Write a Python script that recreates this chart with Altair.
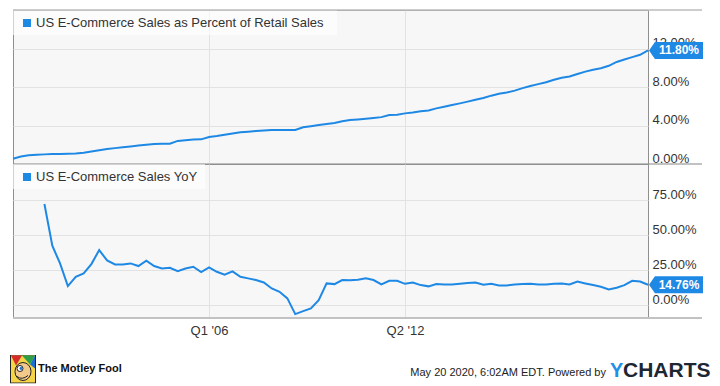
import urllib.parse
import altair as alt
import pandas as pd

# ---------------- data ----------------
quarters = pd.date_range("1999-10-01", periods=82, freq="QS")

pct_retail = [
    0.55, 0.78, 0.90, 0.97, 1.00, 1.04, 1.05, 1.07, 1.08, 1.18,
    1.30, 1.42, 1.55, 1.65, 1.74, 1.83, 1.92, 2.00, 2.07, 2.10,
    2.11, 2.40, 2.48, 2.55, 2.56, 2.80, 2.90, 3.05, 3.18, 3.30,
    3.36, 3.42, 3.48, 3.53, 3.53, 3.53, 3.53, 3.81, 3.93, 4.05,
    4.15, 4.25, 4.45, 4.57, 4.63, 4.70, 4.78, 4.87, 5.09, 5.12,
    5.26, 5.36, 5.48, 5.56, 5.78, 5.95, 6.12, 6.30, 6.48, 6.68,
    6.86, 7.10, 7.30, 7.42, 7.62, 7.88, 8.10, 8.30, 8.50, 8.75,
    8.97, 9.10, 9.35, 9.60, 9.80, 9.95, 10.20, 10.60, 10.85, 11.10,
    11.35, 11.80,
]

yoy_quarters = quarters[4:]
yoy = [
    72.4, 42.6, 30.0, 13.8, 20.4, 22.9, 29.5, 39.5, 32.1, 29.3,
    29.3, 30.0, 28.1, 31.9, 28.1, 26.4, 26.9, 24.5, 26.4, 27.6,
    23.8, 27.1, 24.0, 21.9, 24.3, 20.4, 19.3, 18.1, 16.4, 12.1,
    9.7, 5.0, -6.2, -4.1, -2.1, 3.8, 15.7, 15.2, 18.1, 17.9,
    18.3, 19.3, 18.1, 15.0, 17.6, 17.6, 15.4, 16.4, 14.5, 13.6,
    15.2, 15.0, 15.0, 15.5, 16.0, 16.4, 14.7, 15.5, 14.3, 14.3,
    15.0, 15.2, 15.5, 15.0, 15.0, 15.5, 15.7, 15.0, 17.0, 15.7,
    14.5, 13.3, 11.4, 12.6, 14.5, 17.6, 17.1, 14.76,
]

top_title = "US E-Commerce Sales as Percent of Retail Sales"
bottom_title = "US E-Commerce Sales YoY"
top_ticks = [0, 4, 8, 12]
bottom_ticks = [0, 25, 50, 75]
footer_date = "May 20 2020, 6:02AM EDT.  Powered by"

# ---------------- styling ----------------
BLUE = "#1e88e5"
FONT = "Liberation Sans"
W, H = 635, 154
BADGE = "M -1 0 L -0.78 -0.315 L 1 -0.315 L 1 0.315 L -0.78 0.315 Z"

x_domain = [alt.DateTime(year=1999, month=10, date=1),
            alt.DateTime(year=2020, month=1, date=1)]
x_ticks = [alt.DateTime(year=2006, month=1, date=1),
           alt.DateTime(year=2012, month=4, date=1)]

logo_svg = (
    "<svg xmlns='http://www.w3.org/2000/svg' width='26' height='29' viewBox='0 0 26 29'>"
    "<rect x='0.5' y='0.5' width='25' height='28' fill='#f5d547' stroke='#222'/>"
    "<path d='M1 1 L12 1 L6 11 Z' fill='#d62b2b'/>"
    "<path d='M12 1 L25 1 L20 10 Z' fill='#2e9e48'/>"
    "<path d='M20 10 L25 1 L25 14 Z' fill='#1c6fd1'/>"
    "<ellipse cx='13' cy='17' rx='8' ry='9' fill='#f3c98b' stroke='#222'/>"
    "<circle cx='10' cy='14' r='3' fill='#fff' stroke='#222'/>"
    "<circle cx='11' cy='14' r='1.4' fill='#1c6fd1'/>"
    "<path d='M7 22 Q12 26 18 21' stroke='#222' fill='none'/>"
    "</svg>"
)
logo_uri = "data:image/svg+xml;charset=utf-8," + urllib.parse.quote(logo_svg)


def pct_axis(values):
    return alt.Axis(
        orient="right", values=values, title=None,
        labelExpr="format(datum.value, '.2f') + '%'",
        domain=False, ticks=False, tickSize=0, labelPadding=4,
        labelBaseline="alphabetic", labelOffset=-2,
        grid=True, gridColor="#e2e2e2",
    )


def panel(df, title, box_w, y_domain, y_ticks, show_x_labels, extra=()):
    one = pd.DataFrame({"t": [title]})
    y = alt.Y("v:Q", scale=alt.Scale(domain=y_domain, nice=False, zero=False),
              axis=pct_axis(y_ticks))
    if show_x_labels:
        xaxis = alt.Axis(values=x_ticks, title=None, format="Q%q '%y",
                         formatType="time", domain=False, ticks=False,
                         tickSize=0, labelPadding=6, grid=True,
                         gridColor="#e2e2e2")
    else:
        xaxis = alt.Axis(values=x_ticks, title=None, labels=False,
                         domain=False, ticks=False, tickSize=0, grid=True,
                         gridColor="#e2e2e2")
    x = alt.X("date:T", scale=alt.Scale(domain=x_domain), axis=xaxis)

    base = alt.Chart(df)
    line = base.mark_line(color=BLUE, strokeWidth=2).encode(x=x, y=y)

    last = df.tail(1).copy()
    last["label"] = [f"{v:.2f}%" for v in last["v"]]
    badge = alt.Chart(last).mark_point(
        shape=BADGE, size=2916, filled=True, fill=BLUE, opacity=1,
        strokeWidth=0,
    ).encode(x=alt.value(663), y=y)
    badge_text = alt.Chart(last).mark_text(
        color="white", fontWeight="bold", fontSize=12, font=FONT,
        align="center", baseline="middle",
    ).encode(x=alt.value(666), y=y, text="label:N")

    box = alt.Chart(one).mark_rect(fill="white", opacity=0.6).encode(
        x=alt.value(0), x2=alt.value(box_w), y=alt.value(0), y2=alt.value(25))
    square = alt.Chart(one).mark_square(size=64, color=BLUE, opacity=1).encode(
        x=alt.value(14), y=alt.value(13))
    label = alt.Chart(one).mark_text(
        align="left", baseline="middle", fontSize=13, font=FONT, color="#333",
    ).encode(x=alt.value(23), y=alt.value(12.7), text="t:N")

    layers = [box, line, square, label, *extra, badge, badge_text]
    return alt.layer(*layers).properties(width=W, height=H)


one_row = pd.DataFrame({"k": [0]})
top_rule = alt.Chart(one_row).mark_rule(color="#bdbdbd", strokeWidth=1.5).encode(
    x=alt.value(0), x2=alt.value(689), y=alt.value(0))
mid_rule = alt.Chart(one_row).mark_rule(color="#858585", strokeWidth=1).encode(
    x=alt.value(0), x2=alt.value(689), y=alt.value(H))
bot_rule = alt.Chart(one_row).mark_rule(color="#c2c2c2", strokeWidth=2).encode(
    x=alt.value(0), x2=alt.value(689), y=alt.value(H))

logo = alt.Chart(one_row).mark_image(url=logo_uri, width=26, height=29).encode(
    x=alt.value(10), y=alt.value(205))
fool = alt.Chart(pd.DataFrame({"t": ["The Motley Fool"]})).mark_text(
    align="left", baseline="middle", fontSize=11, fontWeight="bold",
    font=FONT, color="#111").encode(x=alt.value(25), y=alt.value(205), text="t:N")
stamp = alt.Chart(pd.DataFrame({"t": [footer_date]})).mark_text(
    align="right", baseline="middle", fontSize=11, font=FONT,
    color="#222").encode(x=alt.value(593), y=alt.value(209), text="t:N")
brand_y = alt.Chart(pd.DataFrame({"t": ["Y"]})).mark_text(
    align="left", baseline="alphabetic", fontSize=20, fontWeight="bold",
    font=FONT, color="#1e90e8").encode(x=alt.value(597), y=alt.value(213), text="t:N")
brand_rest = alt.Chart(pd.DataFrame({"t": ["CHARTS"]})).mark_text(
    align="left", baseline="alphabetic", fontSize=21, fontWeight="bold",
    font=FONT, color="#1d2733").encode(x=alt.value(610), y=alt.value(213), text="t:N")

df_top = pd.DataFrame({"date": quarters, "v": pct_retail})
df_bot = pd.DataFrame({"date": yoy_quarters, "v": yoy})

top = panel(df_top, top_title, 324, [0, 16], top_ticks, False,
            extra=(top_rule, mid_rule))
bottom = panel(df_bot, bottom_title, 192, [-9, 101], bottom_ticks, True,
               extra=(bot_rule, logo, fool, stamp, brand_y, brand_rest))

chart = (
    alt.vconcat(top, bottom, spacing=0, bounds="flush")
    .resolve_scale(x="independent", y="independent")
    .properties(padding={"left": 0, "top": 0, "right": 0, "bottom": 0},
                background="white")
    .configure_view(fill="#f7f7f7", stroke="#8f8f8f", strokeWidth=1)
    .configure_axis(labelFont=FONT, labelFontSize=13, labelColor="#333")
)

chart.save("out.html", embed_options={"renderer": "svg", "actions": False})
